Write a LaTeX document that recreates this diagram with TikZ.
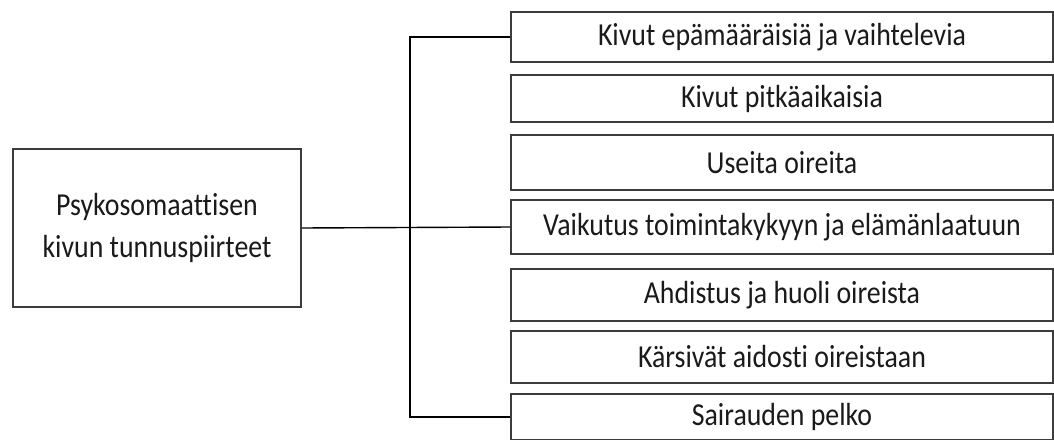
\documentclass[tikz,border=0pt]{standalone}
\usepackage{fontspec}
\setmainfont{Carlito}[Ligatures=NoCommon,FakeStretch=0.87]
\begin{document}
\begin{tikzpicture}[x=1pt,y=-1pt,
  box/.style={draw=boxgray,line width=1.6pt,fill=white,text=textgray,
    inner sep=0pt,align=center,font=\fontsize{32}{42}\selectfont},
  item/.style={box,minimum width=542pt},
  link/.style={draw=black,line width=1.4pt}]
\definecolor{boxgray}{HTML}{3C3C3C}
\definecolor{textgray}{HTML}{1A1A1A}
\useasboundingbox (0,0) rectangle (1054,439);
\clip (0,0) rectangle (1054,439);
% root box
\node[box,minimum width=288pt,minimum height=158pt] (root) at (157,228)
  {Psykosomaattisen\\kivun tunnuspiirteet};
% list of characteristics
\node[item,minimum height=50pt] (b1) at (782,37)  {Kivut epämääräisiä ja vaihtelevia};
\node[item,minimum height=47pt] (b2) at (782,98.5) {Kivut pitkäaikaisia};
\node[item,minimum height=55pt] (b3) at (782,162.5) {Useita oireita};
\node[item,minimum height=54pt] (b4) at (782,227) {Vaikutus toimintakykyyn ja elämänlaatuun};
\node[item,minimum height=52pt] (b5) at (782,295) {Ahdistus ja huoli oireista};
\node[item,minimum height=52pt] (b6) at (782,357) {Kärsivät aidosti oireistaan};
\node[item,minimum height=46pt] (b7) at (782,417) {Sairauden pelko};
% bracket connecting the root to the list
\coordinate (spine) at (410,0);
\draw[link] (root.east) -- (b4.west);
\draw[link] (b1.west) -- (b1.west -| spine) -- (b7.west -| spine) -- (b7.west);
\end{tikzpicture}
\end{document}
